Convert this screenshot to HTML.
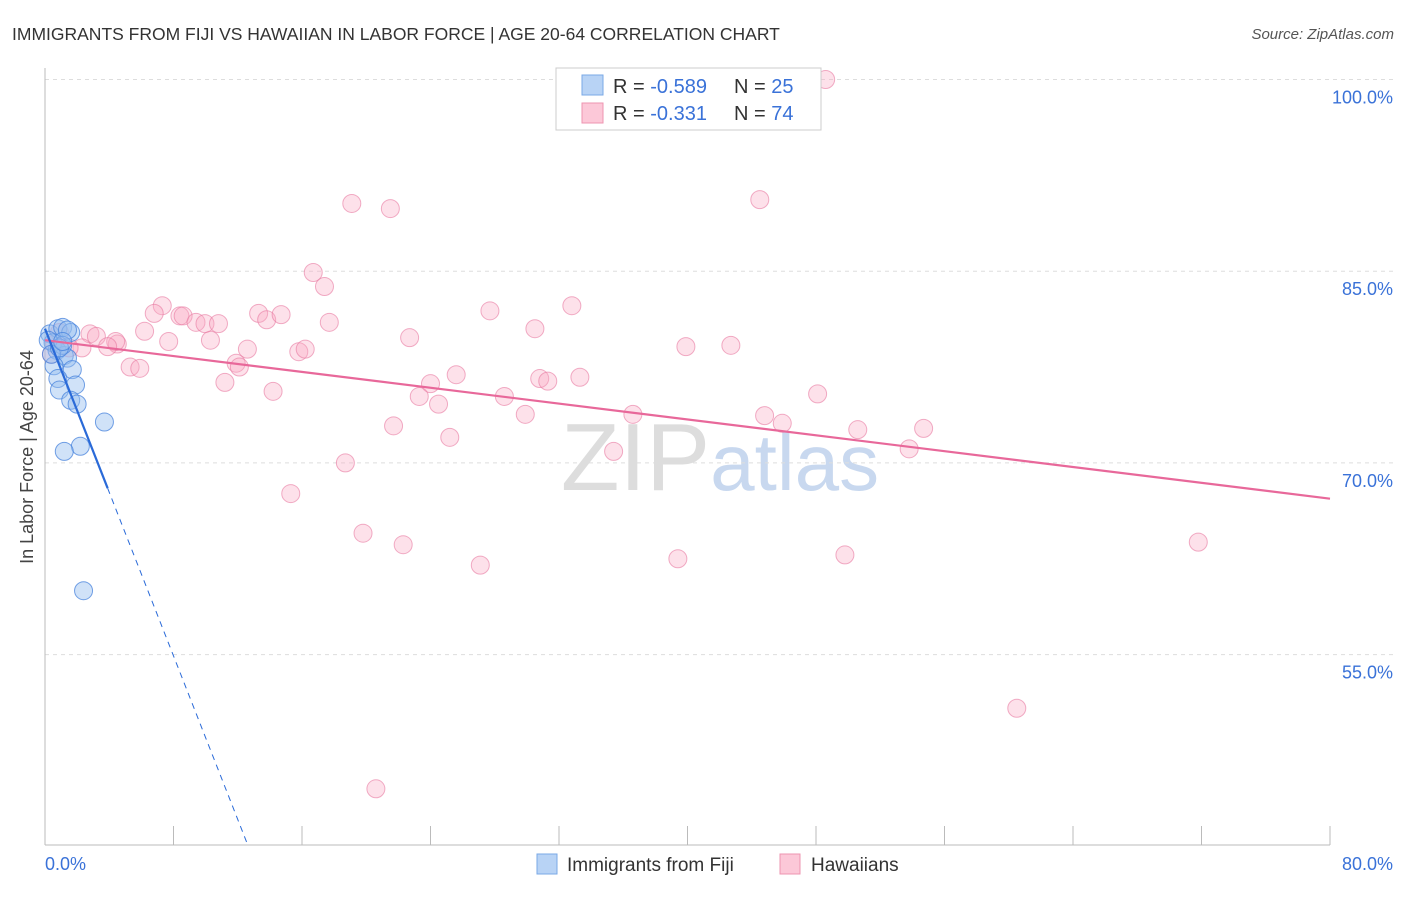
<!DOCTYPE html>
<html><head><meta charset="utf-8"><style>
body{margin:0;background:#fff;font-family:"Liberation Sans",sans-serif;}
svg text{font-family:"Liberation Sans",sans-serif;}
</style></head><body>
<svg id="chart" width="1406" height="892" xmlns="http://www.w3.org/2000/svg">
<text x="12" y="40" font-size="17.5" fill="#333">IMMIGRANTS FROM FIJI VS HAWAIIAN IN LABOR FORCE | AGE 20-64 CORRELATION CHART</text>
<text x="1394" y="39" font-size="15" fill="#555" text-anchor="end" font-style="italic">Source: ZipAtlas.com</text>
<text transform="translate(33,457) rotate(-90)" font-size="18" fill="#444" text-anchor="middle">In Labor Force | Age 20-64</text>
<text x="720" y="490" font-size="96" text-anchor="middle" fill="#ddd" font-family="Liberation Serif">ZIP<tspan fill="#c8d8ef" font-family="Liberation Sans" font-size="80">atlas</tspan></text>
<g id="grid"></g><g id="axes"></g><g id="pts"></g><g id="lines"></g>
<g>
<rect x="556" y="68" width="265" height="62" fill="#fff" stroke="#ccc"/>
<rect x="582" y="75" width="21" height="20" fill="#b8d3f5" stroke="#7aa8e6"/>
<rect x="582" y="103" width="21" height="20" fill="#fcc8d8" stroke="#ee94b0"/>
<text x="613" y="93" font-size="20" fill="#333">R = <tspan fill="#3a72d8">-0.589</tspan></text>
<text x="734" y="93" font-size="20" fill="#333">N = <tspan fill="#3a72d8">25</tspan></text>
<text x="613" y="120" font-size="20" fill="#333">R = <tspan fill="#3a72d8"> -0.331</tspan></text>
<text x="734" y="120" font-size="20" fill="#333">N = <tspan fill="#3a72d8">74</tspan></text>
</g>
<g><rect x="537" y="854" width="20" height="20" fill="#b8d3f5" stroke="#7aa8e6"/><text x="567" y="871" font-size="19" fill="#333">Immigrants from Fiji</text></g>
<g><rect x="780" y="854" width="20" height="20" fill="#fcc8d8" stroke="#ee94b0"/><text x="811" y="871" font-size="19" fill="#333">Hawaiians</text></g>
</svg>
<script>
const fijiX=[0.3,0.8,1.1,1.6,1.4,0.5,0.75,1.2,1.4,0.56,1.7,0.8,1.9,0.9,1.6,2.0,3.7,2.2,1.2,2.4,1.1,0.2,0.4,0.9,1.1];
const fijiY=[80.1,80.5,80.6,80.2,80.4,79.4,78.8,78.4,78.2,77.6,77.3,76.6,76.1,75.7,74.9,74.6,73.2,71.3,70.9,60.0,79.2,79.6,78.5,79.0,79.5];
const hawX=[48.6,19.1,21.5,44.5,16.7,17.4,7.3,6.8,8.4,8.6,9.4,9.96,10.8,13.3,13.8,14.7,17.7,27.7,32.8,30.5,6.2,2.8,3.2,4.5,4.4,3.9,7.7,10.3,22.7,2.3,12.6,15.8,16.2,39.9,42.7,5.3,5.9,11.9,12.1,11.2,14.2,25.6,24.0,30.8,31.3,33.3,23.3,24.5,28.6,29.9,36.6,48.1,44.8,45.9,50.6,54.7,21.7,25.2,53.8,35.4,18.7,15.3,19.8,22.3,27.1,39.4,49.8,71.8,60.5,20.6,0.4,0.6,0.9,1.5];
const hawY=[100,90.3,89.9,90.6,84.9,83.8,82.3,81.7,81.5,81.5,81.0,80.9,80.9,81.7,81.2,81.6,81.0,81.9,82.3,80.5,80.3,80.1,79.9,79.3,79.5,79.1,79.5,79.6,79.8,79.0,78.9,78.7,78.9,79.1,79.2,77.5,77.4,77.8,77.5,76.3,75.6,76.9,76.2,76.6,76.4,76.7,75.2,74.6,75.2,73.8,73.8,75.4,73.7,73.1,72.6,72.7,72.9,72.0,71.1,70.9,70.0,67.6,64.5,63.6,62.0,62.5,62.8,63.8,50.8,44.5,78.5,79.3,80.2,79.0];
const yTicks=[100,85,70,55];
const xTicks=[0,8,16,24,32,40,48,56,64,72,80];
const fijiFit=[80.5,-3.2], hawFit=[79.6,-0.155];
const X=v=>45+v*1285/80, Y=v=>79.5+(100-v)*12.78;
const NS="http://www.w3.org/2000/svg";
function mk(p,t,a){const e=document.createElementNS(NS,t);for(const k in a)e.setAttribute(k,a[k]);document.getElementById(p).appendChild(e);return e;}
yTicks.forEach(v=>{
 const l=mk('grid','line',{x1:45,x2:1395,y1:Y(v),y2:Y(v),stroke:'#ddd','stroke-dasharray':'4,4'});
 
 
 const t=mk('grid','text',{x:1393,y:Y(v)+24,'font-size':18,fill:'#3a72d8','text-anchor':'end'});
 t.textContent=v.toFixed(1)+'%';
 
 
});
mk('axes','line',{x1:45,x2:45,y1:68,y2:845,stroke:'#bbb'});
mk('axes','line',{x1:45,x2:1330,y1:845,y2:845,stroke:'#bbb'});
xTicks.forEach(v=>{
 const l=mk('axes','line',{x1:X(v),x2:X(v),y1:826,y2:845,stroke:'#bbb'});
 
 
});
[[0,'0.0%','start',45],[80,'80.0%','end',1393]].forEach(d=>{
 const t=mk('axes','text',{x:d[3],y:870,'font-size':18,fill:'#3a72d8','text-anchor':d[2]});
 t.textContent=d[1];
 
 
});
hawX.forEach((x,i)=>{
 const c=mk('pts','circle',{cx:X(x),cy:Y(hawY[i]),r:9,fill:'rgba(248,170,195,0.35)',stroke:'rgba(232,120,160,0.6)'});
 
 
});
fijiX.forEach((x,i)=>{
 const c=mk('pts','circle',{cx:X(x),cy:Y(fijiY[i]),r:9,fill:'rgba(150,190,240,0.45)',stroke:'rgba(70,130,220,0.75)'});
 
 
});
const hl=mk('lines','line',{x1:X(0),y1:Y(hawFit[0]),x2:X(80),y2:Y(hawFit[0]+hawFit[1]*80),stroke:'#e8689a','stroke-width':2.2});


const xs=3.9, xe=(fijiFit[0]-40.1)/-fijiFit[1];
const fl=mk('lines','line',{x1:X(0),y1:Y(fijiFit[0]),x2:X(xs),y2:Y(fijiFit[0]+fijiFit[1]*xs),stroke:'#2a6ad8','stroke-width':2.2});


const fd=mk('lines','line',{x1:X(xs),y1:Y(fijiFit[0]+fijiFit[1]*xs),x2:X(xe),y2:Y(fijiFit[0]+fijiFit[1]*xe),stroke:'#2a6ad8','stroke-width':1,'stroke-dasharray':'6,5'});


</script>
</body></html>
